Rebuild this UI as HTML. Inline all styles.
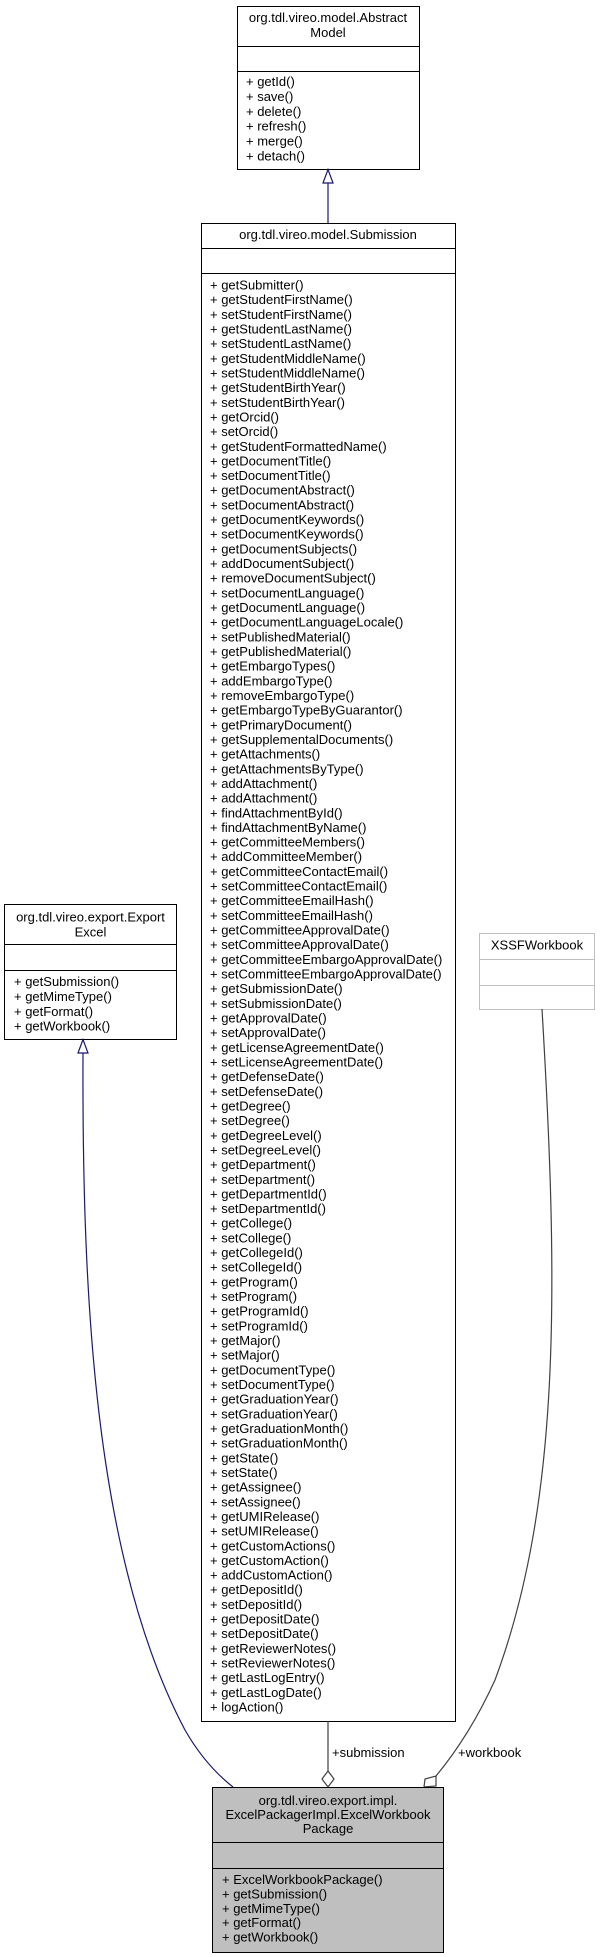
<!DOCTYPE html>
<html><head><meta charset="utf-8"><style>
html,body{margin:0;padding:0;background:#fff;}
svg{display:block;}
text{font-family:"Liberation Sans",Arial,sans-serif;font-size:13px;fill:#000;}
</style></head><body>
<svg width="601" height="1957" viewBox="0 0 601 1957" xmlns="http://www.w3.org/2000/svg">
<rect width="601" height="1957" fill="#fff"/>

<!-- AbstractModel -->
<rect x="237.5" y="6.5" width="182" height="163" fill="#fff" stroke="#000"/>
<line x1="237.5" y1="46.5" x2="419.5" y2="46.5" stroke="#000"/>
<line x1="237.5" y1="71.5" x2="419.5" y2="71.5" stroke="#000"/>
<text x="328" y="22" text-anchor="middle">org.tdl.vireo.model.Abstract</text>
<text x="328" y="37" text-anchor="middle">Model</text>
<text x="246" y="86">+ getId()<tspan x="246" dy="14.9">+ save()</tspan><tspan x="246" dy="14.9">+ delete()</tspan><tspan x="246" dy="14.9">+ refresh()</tspan><tspan x="246" dy="14.9">+ merge()</tspan><tspan x="246" dy="14.9">+ detach()</tspan></text>

<!-- inheritance Abstract <- Submission -->
<line x1="328" y1="183" x2="328" y2="223" stroke="#191970" stroke-width="1.2"/>
<polygon points="328,169.5 323,183 333,183" fill="#fff" stroke="#191970" stroke-width="1.2"/>

<!-- Submission -->
<rect x="201.5" y="223.5" width="254" height="1498" fill="#fff" stroke="#000"/>
<line x1="201.5" y1="248.5" x2="455.5" y2="248.5" stroke="#000"/>
<line x1="201.5" y1="273.5" x2="455.5" y2="273.5" stroke="#000"/>
<text x="328" y="239" text-anchor="middle">org.tdl.vireo.model.Submission</text>
<text x="210" y="289.5">+ getSubmitter()<tspan x="210" dy="14.66">+ getStudentFirstName()</tspan><tspan x="210" dy="14.66">+ setStudentFirstName()</tspan><tspan x="210" dy="14.66">+ getStudentLastName()</tspan><tspan x="210" dy="14.66">+ setStudentLastName()</tspan><tspan x="210" dy="14.66">+ getStudentMiddleName()</tspan><tspan x="210" dy="14.66">+ setStudentMiddleName()</tspan><tspan x="210" dy="14.66">+ getStudentBirthYear()</tspan><tspan x="210" dy="14.66">+ setStudentBirthYear()</tspan><tspan x="210" dy="14.66">+ getOrcid()</tspan><tspan x="210" dy="14.66">+ setOrcid()</tspan><tspan x="210" dy="14.66">+ getStudentFormattedName()</tspan><tspan x="210" dy="14.66">+ getDocumentTitle()</tspan><tspan x="210" dy="14.66">+ setDocumentTitle()</tspan><tspan x="210" dy="14.66">+ getDocumentAbstract()</tspan><tspan x="210" dy="14.66">+ setDocumentAbstract()</tspan><tspan x="210" dy="14.66">+ getDocumentKeywords()</tspan><tspan x="210" dy="14.66">+ setDocumentKeywords()</tspan><tspan x="210" dy="14.66">+ getDocumentSubjects()</tspan><tspan x="210" dy="14.66">+ addDocumentSubject()</tspan><tspan x="210" dy="14.66">+ removeDocumentSubject()</tspan><tspan x="210" dy="14.66">+ setDocumentLanguage()</tspan><tspan x="210" dy="14.66">+ getDocumentLanguage()</tspan><tspan x="210" dy="14.66">+ getDocumentLanguageLocale()</tspan><tspan x="210" dy="14.66">+ setPublishedMaterial()</tspan><tspan x="210" dy="14.66">+ getPublishedMaterial()</tspan><tspan x="210" dy="14.66">+ getEmbargoTypes()</tspan><tspan x="210" dy="14.66">+ addEmbargoType()</tspan><tspan x="210" dy="14.66">+ removeEmbargoType()</tspan><tspan x="210" dy="14.66">+ getEmbargoTypeByGuarantor()</tspan><tspan x="210" dy="14.66">+ getPrimaryDocument()</tspan><tspan x="210" dy="14.66">+ getSupplementalDocuments()</tspan><tspan x="210" dy="14.66">+ getAttachments()</tspan><tspan x="210" dy="14.66">+ getAttachmentsByType()</tspan><tspan x="210" dy="14.66">+ addAttachment()</tspan><tspan x="210" dy="14.66">+ addAttachment()</tspan><tspan x="210" dy="14.66">+ findAttachmentById()</tspan><tspan x="210" dy="14.66">+ findAttachmentByName()</tspan><tspan x="210" dy="14.66">+ getCommitteeMembers()</tspan><tspan x="210" dy="14.66">+ addCommitteeMember()</tspan><tspan x="210" dy="14.66">+ getCommitteeContactEmail()</tspan><tspan x="210" dy="14.66">+ setCommitteeContactEmail()</tspan><tspan x="210" dy="14.66">+ getCommitteeEmailHash()</tspan><tspan x="210" dy="14.66">+ setCommitteeEmailHash()</tspan><tspan x="210" dy="14.66">+ getCommitteeApprovalDate()</tspan><tspan x="210" dy="14.66">+ setCommitteeApprovalDate()</tspan><tspan x="210" dy="14.66">+ getCommitteeEmbargoApprovalDate()</tspan><tspan x="210" dy="14.66">+ setCommitteeEmbargoApprovalDate()</tspan><tspan x="210" dy="14.66">+ getSubmissionDate()</tspan><tspan x="210" dy="14.66">+ setSubmissionDate()</tspan><tspan x="210" dy="14.66">+ getApprovalDate()</tspan><tspan x="210" dy="14.66">+ setApprovalDate()</tspan><tspan x="210" dy="14.66">+ getLicenseAgreementDate()</tspan><tspan x="210" dy="14.66">+ setLicenseAgreementDate()</tspan><tspan x="210" dy="14.66">+ getDefenseDate()</tspan><tspan x="210" dy="14.66">+ setDefenseDate()</tspan><tspan x="210" dy="14.66">+ getDegree()</tspan><tspan x="210" dy="14.66">+ setDegree()</tspan><tspan x="210" dy="14.66">+ getDegreeLevel()</tspan><tspan x="210" dy="14.66">+ setDegreeLevel()</tspan><tspan x="210" dy="14.66">+ getDepartment()</tspan><tspan x="210" dy="14.66">+ setDepartment()</tspan><tspan x="210" dy="14.66">+ getDepartmentId()</tspan><tspan x="210" dy="14.66">+ setDepartmentId()</tspan><tspan x="210" dy="14.66">+ getCollege()</tspan><tspan x="210" dy="14.66">+ setCollege()</tspan><tspan x="210" dy="14.66">+ getCollegeId()</tspan><tspan x="210" dy="14.66">+ setCollegeId()</tspan><tspan x="210" dy="14.66">+ getProgram()</tspan><tspan x="210" dy="14.66">+ setProgram()</tspan><tspan x="210" dy="14.66">+ getProgramId()</tspan><tspan x="210" dy="14.66">+ setProgramId()</tspan><tspan x="210" dy="14.66">+ getMajor()</tspan><tspan x="210" dy="14.66">+ setMajor()</tspan><tspan x="210" dy="14.66">+ getDocumentType()</tspan><tspan x="210" dy="14.66">+ setDocumentType()</tspan><tspan x="210" dy="14.66">+ getGraduationYear()</tspan><tspan x="210" dy="14.66">+ setGraduationYear()</tspan><tspan x="210" dy="14.66">+ getGraduationMonth()</tspan><tspan x="210" dy="14.66">+ setGraduationMonth()</tspan><tspan x="210" dy="14.66">+ getState()</tspan><tspan x="210" dy="14.66">+ setState()</tspan><tspan x="210" dy="14.66">+ getAssignee()</tspan><tspan x="210" dy="14.66">+ setAssignee()</tspan><tspan x="210" dy="14.66">+ getUMIRelease()</tspan><tspan x="210" dy="14.66">+ setUMIRelease()</tspan><tspan x="210" dy="14.66">+ getCustomActions()</tspan><tspan x="210" dy="14.66">+ getCustomAction()</tspan><tspan x="210" dy="14.66">+ addCustomAction()</tspan><tspan x="210" dy="14.66">+ getDepositId()</tspan><tspan x="210" dy="14.66">+ setDepositId()</tspan><tspan x="210" dy="14.66">+ getDepositDate()</tspan><tspan x="210" dy="14.66">+ setDepositDate()</tspan><tspan x="210" dy="14.66">+ getReviewerNotes()</tspan><tspan x="210" dy="14.66">+ setReviewerNotes()</tspan><tspan x="210" dy="14.66">+ getLastLogEntry()</tspan><tspan x="210" dy="14.66">+ getLastLogDate()</tspan><tspan x="210" dy="14.66">+ logAction()</tspan></text>

<!-- ExportExcel -->
<rect x="4.5" y="904.5" width="172" height="135" fill="#fff" stroke="#000"/>
<line x1="4.5" y1="944.5" x2="176.5" y2="944.5" stroke="#000"/>
<line x1="4.5" y1="970.5" x2="176.5" y2="970.5" stroke="#000"/>
<text x="90.5" y="921.5" text-anchor="middle">org.tdl.vireo.export.Export</text>
<text x="90.5" y="936.5" text-anchor="middle">Excel</text>
<text x="14" y="986">+ getSubmission()<tspan x="14" dy="14.9">+ getMimeType()</tspan><tspan x="14" dy="14.9">+ getFormat()</tspan><tspan x="14" dy="14.9">+ getWorkbook()</tspan></text>

<!-- XSSFWorkbook -->
<rect x="479.5" y="933.5" width="115" height="76" fill="#fff" stroke="#bfbfbf"/>
<line x1="479.5" y1="959.5" x2="594.5" y2="959.5" stroke="#bfbfbf"/>
<line x1="479.5" y1="985.5" x2="594.5" y2="985.5" stroke="#bfbfbf"/>
<text x="537" y="949.5" text-anchor="middle">XSSFWorkbook</text>

<!-- ExportExcel inheritance curve -->
<path d="M83,1053 C82,1300 95,1560 185,1730 Q205,1765 233,1787" fill="none" stroke="#191970" stroke-width="1.2"/>
<polygon points="83,1039.5 78,1053 88,1053" fill="#fff" stroke="#191970" stroke-width="1.2"/>

<!-- submission aggregation -->
<line x1="328" y1="1721" x2="328" y2="1771" stroke="#404040" stroke-width="1.2"/>
<polygon points="328,1771 334,1779 328,1787 322,1779" fill="#fff" stroke="#404040" stroke-width="1.2"/>
<text x="332" y="1757">+submission</text>

<!-- workbook aggregation -->
<path d="M542,1009 C558,1280 562,1500 495,1680 Q470,1735 436,1776" fill="none" stroke="#404040" stroke-width="1.2"/>
<polygon points="436,1776 436,1786 424,1787 425,1779" fill="#fff" stroke="#404040" stroke-width="1.2"/>
<text x="458" y="1757">+workbook</text>

<!-- ExcelWorkbookPackage -->
<rect x="212.5" y="1787.5" width="231" height="165" fill="#bfbfbf" stroke="#000"/>
<line x1="212.5" y1="1842.5" x2="443.5" y2="1842.5" stroke="#000"/>
<line x1="212.5" y1="1868.5" x2="443.5" y2="1868.5" stroke="#000"/>
<text x="328" y="1805" text-anchor="middle">org.tdl.vireo.export.impl.</text>
<text x="328" y="1819" text-anchor="middle">ExcelPackagerImpl.ExcelWorkbook</text>
<text x="328" y="1833" text-anchor="middle">Package</text>
<text x="222" y="1884">+ ExcelWorkbookPackage()<tspan x="222" dy="14.4">+ getSubmission()</tspan><tspan x="222" dy="14.4">+ getMimeType()</tspan><tspan x="222" dy="14.4">+ getFormat()</tspan><tspan x="222" dy="14.4">+ getWorkbook()</tspan></text>
</svg>
</body></html>
